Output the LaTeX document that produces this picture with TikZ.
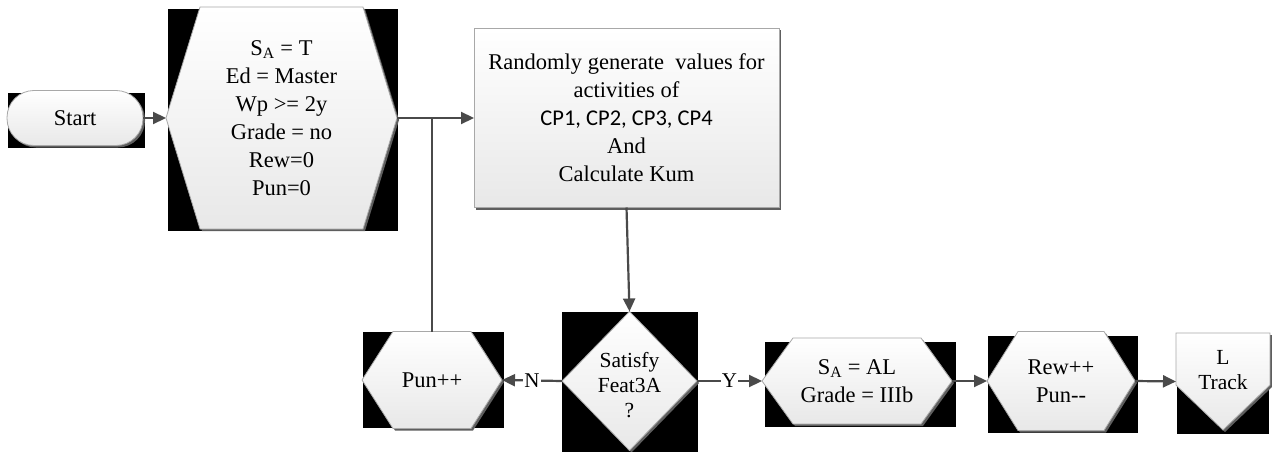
\documentclass[tikz,border=0pt]{standalone}
\usepackage{fontspec}
\setmainfont{Liberation Serif}
\newfontfamily\cpfont{Carlito}
\usetikzlibrary{arrows.meta,shadows,calc}
\pgfdeclarelayer{bg}
\pgfsetlayers{bg,main}
\definecolor{wire}{HTML}{4A4A4A}
\definecolor{rim}{HTML}{A8A8A8}
\definecolor{shade}{HTML}{5E5E5E}
\definecolor{lowfill}{HTML}{E8E8E8}
\tikzset{
  frame/.style={inner sep=0pt, outer sep=0pt, align=center,
    font=\fontsize{22.5}{28}\selectfont},
  tight/.style={font=\fontsize{21.5}{25}\selectfont},
  surface/.style={draw=rim, line width=0.8pt, top color=white, bottom color=lowfill,
    drop shadow={shadow xshift=2pt, shadow yshift=-2pt, opacity=1, fill=shade}},
  backing/.style={fill=black},
  link/.style={draw=wire, line width=2.2pt, -{Triangle[length=13pt,width=12pt]}},
  plain link/.style={draw=wire, line width=2.2pt},
  tag/.style={fill=white, inner sep=1pt, font=\fontsize{21}{24}\selectfont},
}
% hexagon with pointed left/right ends, #2 = horizontal inset of the flat edges
\newcommand{\hexagonpath}[2]{(#1.west) -- ([xshift=#2]#1.north west) -- ([xshift=-#2]#1.north east) -- (#1.east) -- ([xshift=-#2]#1.south east) -- ([xshift=#2]#1.south west) -- cycle}
\begin{document}
\begin{tikzpicture}[x=1pt,y=-1pt]
\useasboundingbox (0,0) rectangle (1272,452);

% ---- frames holding the texts ----
\node[frame, surface, rounded corners=27pt, minimum width=136, minimum height=55] (start) at (75,118) {Start};
\node[frame, minimum width=231, minimum height=222] (h1) at (281.5,118)
  {S\textsubscript{A} = T\\Ed = Master\\Wp >= 2y\\Grade = no\\Rew=0\\Pun=0};
\node[frame, surface, minimum width=305, minimum height=179] (box) at (626.5,118)
  {Randomly generate \ values for\\activities of\\{\cpfont CP1, CP2, CP3, CP4}\\And\\Calculate Kum};
\node[frame, minimum width=135, minimum height=139] (dia) at (629.5,381) {};
\node[frame, tight] (dia-txt) at (629.5,385) {Satisfy\\Feat3A\\?};
\node[frame, minimum width=140, minimum height=97] (pun) at (432,380) {Pun++};
\node[frame, minimum width=190, minimum height=86] (sa) at (857,381)
  {S\textsubscript{A} = AL\\Grade = IIIb};
\node[frame, minimum width=148, minimum height=99] (rew) at (1061,381) {Rew++\\Pun-{}-};
\node[frame, minimum width=94, minimum height=97] (lt) at (1223,381.5) {};
\node[frame, tight] (lt-txt) at (1223,370.5) {L\\Track};

% ---- outlines behind the texts ----
\begin{pgfonlayer}{bg}
  \fill[backing] (8,93) rectangle (145,148);
  \fill[backing] (168,9) rectangle (398,231);
  \fill[backing] (562,312) rectangle (698,452);
  \fill[backing] (363,332) rectangle (504,428);
  \fill[backing] (765,342) rectangle (956,427);
  \fill[backing] (988,336) rectangle (1138,433);
  \fill[backing] (1177,345) rectangle (1269,434);

  \path[surface] \hexagonpath{h1}{34};
  \path[surface] (dia.north) -- (dia.east) -- (dia.south) -- (dia.west) -- cycle;
  \path[surface] \hexagonpath{pun}{31};
  \path[surface] \hexagonpath{sa}{31};
  \path[surface] \hexagonpath{rew}{31};
  \path[surface] (lt.north west) -- (lt.north east) -- ([yshift=-52]lt.north east)
    -- (lt.south) -- ([yshift=-52]lt.north west) -- cycle;
\end{pgfonlayer}

% ---- connectors ----
\draw[link] (start.east) -- (h1.west);
\draw[link] (h1.east) -- (box.west);
\draw[plain link] (pun.north) -- (pun.north |- h1.east);
\draw[link] (box.south) -- (dia.north);
\draw[link] (dia.west) -- node[tag] {N} (pun.east);
\draw[link] (dia.east) -- node[tag] {Y} (sa.west);
\draw[link] (sa.east) -- (rew.west);
\draw[link] (rew.east) -- (lt.west);
\end{tikzpicture}
\end{document}
